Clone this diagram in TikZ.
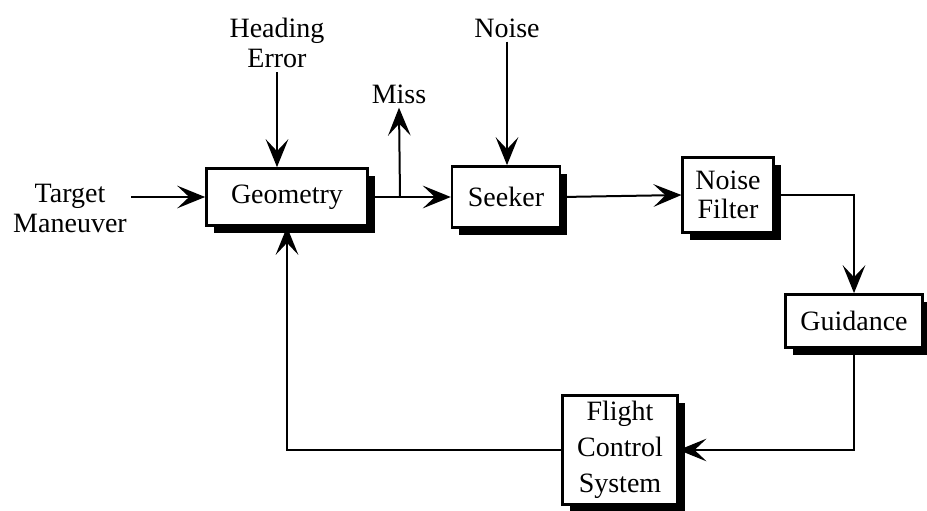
\documentclass[tikz,border=0pt]{standalone}
\usepackage{fontspec}
\setmainfont{Liberation Serif}
\usepackage{tikz}
\usetikzlibrary{arrows.meta,positioning,calc,shadows}

\begin{document}
\begin{tikzpicture}[x=0.75pt, y=-0.75pt,
    font=\fontsize{21}{22.5}\selectfont,
    block/.style={draw, line width=1.8pt, fill=white, align=center, inner sep=2pt,
        general shadow={fill=black, shadow xshift=5.5pt, shadow yshift=-5.5pt}},
    label/.style={align=center, inner sep=3pt},
    sig/.style={line width=1.5pt, -{Stealth[length=21pt, width=17pt, inset=9pt]}}]
    \useasboundingbox (0,0) rectangle (927,510);

    % Blocks
    \node[block, minimum width=121pt, minimum height=43pt] (geo) at (287,197) {Geometry};
    \node[block, minimum width=81pt, minimum height=46pt] (seek) at (506,197) {Seeker};
    \node[block, minimum width=68pt, minimum height=56pt] (filt) at (728,195) {Noise\\[-1pt]Filter};
    \node[block, minimum width=103pt, minimum height=40pt] (guid) at (854,321) {Guidance};
    \node[block, minimum width=86pt, minimum height=82pt, font=\fontsize{21}{27}\selectfont]
        (fcs) at (620,450) {Flight\\Control\\System};

    % Inputs and outputs
    \node[label] (tm) at (70,208) {Target\\Maneuver};
    \node[label] (he) at (277,43) {Heading\\Error};
    \node[label] (miss) at (399,94) {Miss};
    \node[label] (noise) at (507,28) {Noise};
    \coordinate (jn) at (400,197);

    % Signal paths
    \draw[sig] (tm.east |- geo.west) -- (geo.west);
    \draw[sig] (he.south) -- (he.south |- geo.north);
    \draw[sig] (geo.east) -- (seek.west);
    \draw[sig] (jn) -- (miss.south);
    \draw[sig] (noise.south) -- (noise.south |- seek.north);
    \draw[sig] (seek.east) -- (filt.west);
    \draw[sig] (filt.east) -| (guid.north);
    \draw[sig] (guid.south) |- (fcs.east);
    \draw[sig] (fcs.west) -| (geo.south);
\end{tikzpicture}
\end{document}
